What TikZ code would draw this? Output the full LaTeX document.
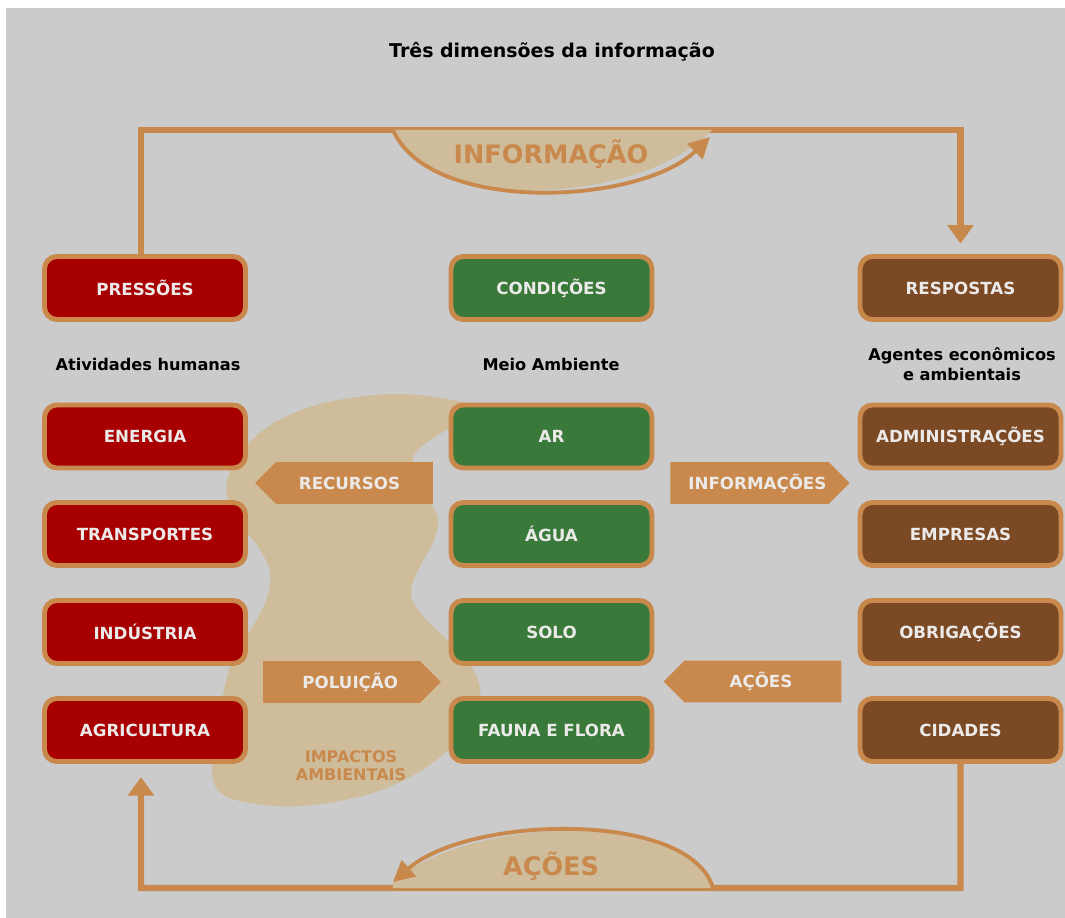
\documentclass[tikz,border=0pt]{standalone}
\usepackage{fontspec}
\setmainfont{DejaVu Sans}
\usetikzlibrary{
    shapes.arrows,
    arrows.meta,
    positioning,
    calc
}
\definecolor{bggray}{RGB}{203,203,203}
\definecolor{loopor}{RGB}{201,137,77}
\definecolor{blobtan}{RGB}{206,188,155}
\definecolor{presred}{RGB}{168,0,0}
\definecolor{condgreen}{RGB}{57,122,58}
\definecolor{respbrown}{RGB}{123,74,36}
\definecolor{boxtext}{RGB}{236,233,233}

\tikzset{
    dimbox/.style={draw=loopor, line width=2.8pt, rounded corners=7pt,
        minimum width=4.02cm, minimum height=1.26cm, text=boxtext,
        font=\fontsize{9.5}{11}\selectfont\bfseries},
    presbox/.style={dimbox, fill=presred},
    condbox/.style={dimbox, fill=condgreen},
    respbox/.style={dimbox, fill=respbrown},
    flowarrow/.style={single arrow, single arrow head extend=0pt, fill=loopor,
        minimum height=3.56cm, minimum width=0.84cm, inner sep=1pt, text=boxtext,
        font=\fontsize{9.5}{11}\selectfont\bfseries},
    heading/.style={font=\fontsize{9.2}{11}\selectfont\bfseries, align=center},
    loopline/.style={draw=loopor, line width=3.6pt,
        -{Triangle[length=10.5pt, width=14.5pt]}},
    arcline/.style={draw=loopor, line width=2.2pt,
        -{Triangle[length=12pt, width=12pt]}},
    arclabel/.style={text=loopor, font=\fontsize{14.5}{16}\selectfont\bfseries}
}

\begin{document}
\begin{tikzpicture}[x=0.02cm, y=-0.02cm]
    % page and grey field
    \useasboundingbox (0,0) rectangle (1065,918);
    \fill[white] (0,0) rectangle (1065,918);
    \fill[bggray] (6,8) rectangle (1065,918);

    % title
    \node[font=\fontsize{10.8}{13}\selectfont\bfseries] (titulo) at (552,52) {Três dimensões da informação};

    % impacts blob
    \fill[blobtan] plot[smooth cycle, tension=0.6] coordinates {
        (462,402) (400,394) (333,401) (283,418) (250,442) (230,472) (227,495)
        (237,520) (257,545) (270,572) (266,600) (252,628) (232,662) (222,700)
        (212,765) (220,792) (250,803) (300,806) (362,796) (412,776) (450,748)
        (476,712) (480,688) (470,665) (445,638) (422,615) (411,595) (417,572)
        (432,545) (438,520) (428,498) (413,466) (420,448) (452,426) (470,412)};
    \node[text=loopor, font=\fontsize{9.1}{10.2}\selectfont\bfseries, align=center] (impactos) at (351,766) {IMPACTOS\\AMBIENTAIS};

    % three columns
    \node[presbox] (pres) at (145,288) {PRESSÕES};
    \node[condbox] (cond) at (551.5,288) {CONDIÇÕES};
    \node[respbox] (resp) at (960.5,288) {RESPOSTAS};

    \node[heading] (hpres) at (148,364) {Atividades humanas};
    \node[heading] (hcond) at (551,364) {Meio Ambiente};
    \node[heading] (hresp) at (962,364) {Agentes econômicos\\e ambientais};

    \node[presbox] (ener) at (145,436.5) {ENERGIA};
    \node[presbox] (trans) at (145,534) {TRANSPORTES};
    \node[presbox] (ind) at (145,632) {INDÚSTRIA};
    \node[presbox] (agri) at (145,730) {AGRICULTURA};

    \node[condbox] (ar) at (551.5,436.5) {AR};
    \node[condbox] (agua) at (551.5,534) {ÁGUA};
    \node[condbox] (solo) at (551.5,632) {SOLO};
    \node[condbox] (fauna) at (551.5,730) {FAUNA E FLORA};

    \node[respbox] (adm) at (960.5,436.5) {ADMINISTRAÇÕES};
    \node[respbox] (emp) at (960.5,534) {EMPRESAS};
    \node[respbox] (obr) at (960.5,632) {OBRIGAÇÕES};
    \node[respbox] (cid) at (960.5,730) {CIDADES};

    % flows between the columns (padding on the tail side)
    \node[flowarrow, shape border rotate=180] (recursos) at (354.5,483) {RECURSOS\hspace*{5.7pt}};
    \node[flowarrow] (poluicao) at (341.5,682) {\hspace*{10pt}POLUIÇÃO};
    \node[flowarrow] (informacoes) at (749.5,483) {\hspace*{9pt}INFORMAÇÕES};
    \node[flowarrow, shape border rotate=180] (acoes) at (763,681.5) {AÇÕES\hspace*{2.3pt}};

    % information loop (top)
    \coordinate (topR) at (960.5,130);
    \coordinate (botL) at (141,888);
    \draw[loopline, shorten >=6pt] ([xshift=-0.08cm]pres.north) |- (topR) -- (resp.north);
    \fill[blobtan] (393,130) .. controls (430,215) and (640,205) .. (712,130) -- cycle;
    \draw[arcline] (393,130) .. controls (430,215) and (640,205) .. (710,137);
    \node[arclabel] (informacao) at (551,154) {INFORMAÇÃO};

    % actions loop (bottom)
    \draw[loopline, shorten >=7.5pt] (cid.south) |- (botL) -- ([xshift=-0.08cm]agri.south);
    \fill[blobtan] (713,888) .. controls (690,810) and (470,815) .. (393,882) -- (393,888) -- cycle;
    \draw[arcline] (713,888) .. controls (690,810) and (470,815) .. (393,882);
    \node[arclabel] (acoesloop) at (551,866) {AÇÕES};
\end{tikzpicture}
\end{document}
